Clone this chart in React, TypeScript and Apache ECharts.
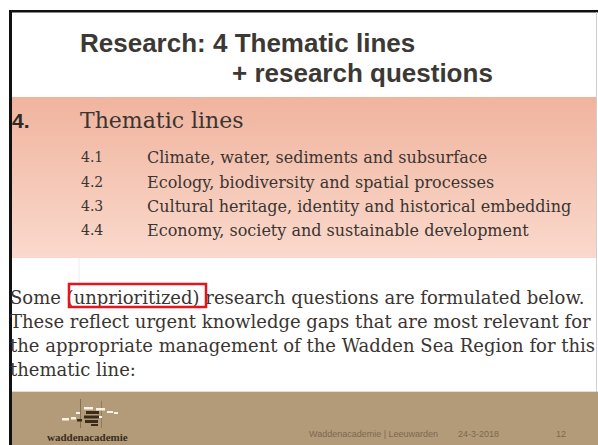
import React, { useEffect, useRef } from "react";
import * as echarts from "echarts";

const titleLines = ["Research: 4 Thematic lines", "+ research questions"];
const sectionNumber = "4.";
const sectionTitle = "Thematic lines";
const itemNumbers = ["4.1", "4.2", "4.3", "4.4"];
const itemTexts = [
  "Climate, water, sediments and subsurface",
  "Ecology, biodiversity and spatial processes",
  "Cultural heritage, identity and historical embedding",
  "Economy, society and sustainable development",
];
const bodyLines = [
  "Some (unprioritized) research questions are formulated below.",
  "These reflect urgent knowledge gaps that are most relevant for",
  "the appropriate management of the Wadden Sea Region for this",
  "thematic line:",
];
const footerTexts = ["Waddenacademie | Leeuwarden", "24-3-2018", "12"];
const logoName = "waddenacademie";

const DARK = "#3a3531";
const SERIF = "'DejaVu Serif', serif";
const SANS = "'Liberation Sans', Arial, sans-serif";

function txt(text: string, x: number, y: number, font: string, fill: string, align = "left") {
  return {
    type: "text",
    x,
    y,
    silent: true,
    style: {
      text,
      font,
      fill,
      align,
      verticalAlign: "middle",
      textAlign: align,
      textVerticalAlign: "middle",
    },
  };
}

export default function App() {
  const ref = useRef<HTMLDivElement>(null);
  useEffect(() => {
    document.body.style.margin = "0";
    const chart = echarts.init(ref.current!, null, { renderer: "svg" });
    const elements: any[] = [];
    elements.push({ type: "rect", shape: { x: 0, y: 0, width: 598, height: 445 }, style: { fill: "#ffffff" } });
    elements.push({
      type: "rect",
      shape: { x: 12, y: 97, width: 585, height: 161 },
      style: {
        fill: new echarts.graphic.LinearGradient(0, 0, 0, 1, [
          { offset: 0, color: "#f0b49e" },
          { offset: 1, color: "#fad9cc" },
        ]),
      },
    });
    elements.push({ type: "line", shape: { x1: 79, y1: 258, x2: 79, y2: 283 }, style: { stroke: "#ececec", lineWidth: 1 } });
    elements.push({ type: "rect", shape: { x: 12, y: 392, width: 586, height: 53 }, style: { fill: "#b39b79" } });
    elements.push({ type: "line", shape: { x1: 12, y1: 391.5, x2: 598, y2: 391.5 }, style: { stroke: "#e6ddd0", lineWidth: 1 } });
    elements.push({ type: "rect", shape: { x: 9, y: 10, width: 589, height: 2.5 }, style: { fill: "#111111" } });
    elements.push({ type: "rect", shape: { x: 9, y: 10, width: 3, height: 435 }, style: { fill: "#111111" } });
    elements.push({ type: "line", shape: { x1: 596.5, y1: 12, x2: 596.5, y2: 392 }, style: { stroke: "#cfcfcf", lineWidth: 1 } });

    // title
    elements.push(txt(titleLines[0], 80, 43, `bold 26px ${SANS}`, "#3c3834"));
    elements.push(txt(titleLines[1], 232, 73, `bold 26px ${SANS}`, "#3c3834"));

    // section
    elements.push(txt(sectionNumber, 12, 120, `bold 21px ${SANS}`, "#2e2a27"));
    elements.push(txt(sectionTitle, 80, 120, `22px ${SERIF}`, DARK));
    const itemY = [157, 182, 206, 230];
    itemNumbers.forEach((n, i) => {
      elements.push(txt(n, 81, itemY[i], `14px ${SERIF}`, DARK));
      elements.push(txt(itemTexts[i], 147, itemY[i], `16px ${SERIF}`, DARK));
    });

    // body
    const bodyY = [297, 321, 345, 369];
    bodyLines.forEach((l, i) => {
      elements.push(txt(l, 10, bodyY[i], `18px ${SERIF}`, DARK));
    });
    elements.push({
      type: "rect",
      shape: { x: 69, y: 284, width: 137, height: 23 },
      style: { fill: "none", stroke: "#e8141b", lineWidth: 2.5 },
    });

    // logo
    const logoStroke = "#6e5c46";
    elements.push({ type: "line", shape: { x1: 80.5, y1: 399, x2: 80.5, y2: 428 }, style: { stroke: logoStroke, lineWidth: 1, opacity: 0.7 } });
    elements.push({ type: "line", shape: { x1: 101.5, y1: 401, x2: 101.5, y2: 428 }, style: { stroke: logoStroke, lineWidth: 1, opacity: 0.5 } });
    const whiteDashes = [
      [62, 418, 7, 2.5],
      [71, 417, 5, 2.5],
      [76, 412, 4, 2],
      [84, 407, 9, 2.5],
      [96, 408, 9, 2.5],
      [107, 411, 6, 2],
      [114, 412, 4, 2],
      [97, 416, 5, 2],
    ];
    whiteDashes.forEach(([x, y, w, h]) =>
      elements.push({ type: "rect", shape: { x, y, width: w, height: h }, style: { fill: "#f7f1e8" } })
    );
    const brownDashes = [
      [86, 411, 13, 3],
      [84, 415.5, 15, 3],
      [85, 420, 13, 3],
      [77, 419, 5, 2.5],
      [91, 424, 7, 2],
    ];
    brownDashes.forEach(([x, y, w, h]) =>
      elements.push({ type: "rect", shape: { x, y, width: w, height: h }, style: { fill: "#3c2a1a" } })
    );
    elements.push(txt(logoName, 47, 437, `bold 11px 'Liberation Serif', serif`, "#3a2c1e"));

    elements.push(txt(footerTexts[0], 309, 434, `9px ${SANS}`, "#7b6850"));
    elements.push(txt(footerTexts[1], 458, 434, `9px ${SANS}`, "#7b6850"));
    elements.push(txt(footerTexts[2], 556, 434, `9px ${SANS}`, "#7b6850"));

    chart.setOption({ animation: false, graphic: { elements } });
    return () => chart.dispose();
  }, []);
  return <div ref={ref} style={{ width: 598, height: 445 }} />;
}
